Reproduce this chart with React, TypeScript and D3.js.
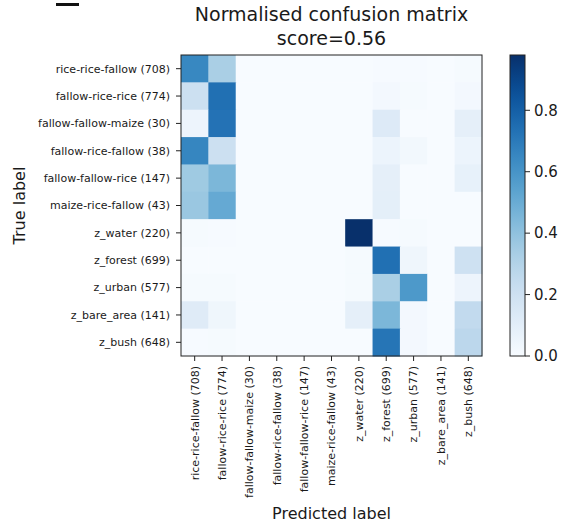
import React from 'react';
import * as d3 from 'd3';

const classNames = [
    'rice-rice-fallow (708)',
    'fallow-rice-rice (774)',
    'fallow-fallow-maize (30)',
    'fallow-rice-fallow (38)',
    'fallow-fallow-rice (147)',
    'maize-rice-fallow (43)',
    'z_water (220)',
    'z_forest (699)',
    'z_urban (577)',
    'z_bare_area (141)',
    'z_bush (648)',
];

// rows = true label, columns = predicted label (row-normalised)
const matrix = [
    [0.65, 0.33, 0, 0, 0, 0, 0, 0.005, 0.005, 0, 0.01],
    [0.21, 0.74, 0, 0, 0, 0, 0, 0.02, 0.01, 0, 0.02],
    [0.05, 0.73, 0, 0, 0, 0, 0, 0.13, 0, 0, 0.09],
    [0.658, 0.21, 0, 0, 0, 0, 0, 0.053, 0.026, 0, 0.053],
    [0.36, 0.45, 0, 0, 0, 0, 0, 0.09, 0, 0, 0.08],
    [0.372, 0.51, 0, 0, 0, 0, 0, 0.093, 0, 0, 0],
    [0.01, 0.005, 0, 0, 0, 0, 0.98, 0.005, 0.01, 0, 0],
    [0, 0, 0, 0, 0, 0, 0.01, 0.74, 0.04, 0, 0.2],
    [0.01, 0.01, 0, 0, 0, 0, 0.01, 0.33, 0.58, 0, 0.05],
    [0.12, 0.04, 0, 0, 0, 0, 0.09, 0.45, 0.02, 0, 0.25],
    [0.005, 0.01, 0, 0, 0, 0, 0, 0.72, 0.02, 0, 0.27],
];

const colorbarTicks = [0, 0.2, 0.4, 0.6, 0.8];
const title = ['Normalised confusion matrix', 'score=0.56'];

const font = '"DejaVu Sans", sans-serif';

export default function App() {
    const left = 181;
    const top = 55;
    const size = 301;
    const vmax = d3.max(matrix.flat());

    const x = d3.scaleBand().domain(d3.range(classNames.length)).range([left, left + size]);
    const y = d3.scaleBand().domain(d3.range(classNames.length)).range([top, top + size]);
    const color = d3.scaleSequential(d3.interpolateBlues).domain([0, vmax]);

    const cbX = 510;
    const cbW = 15;
    const cbY = d3.scaleLinear().domain([0, vmax]).range([top + size, top]);
    const stops = d3.range(0, 1.0001, 0.05);

    return (
        <svg width={567} height={526} style={{ position: 'absolute', left: 0, top: 0 }} fontFamily={font}>
            <rect x={0} y={0} width={567} height={526} fill="#fff" />
            <rect x={56} y={3} width={23} height={3} fill="#111" />

            <g textAnchor="middle" fontSize={19} fill="#1a1a1a">
                <text x={left + size / 2} y={21}>{title[0]}</text>
                <text x={left + size / 2} y={45}>{title[1]}</text>
            </g>

            <g>
                {matrix.map((row, i) =>
                    row.map((v, j) => (
                        <rect
                            key={`${i}-${j}`}
                            x={x(j)}
                            y={y(i)}
                            width={x.bandwidth() + 0.5}
                            height={y.bandwidth() + 0.5}
                            fill={color(v)}
                        />
                    ))
                )}
            </g>
            <rect x={left} y={top} width={size} height={size} fill="none" stroke="#222" strokeWidth={1} />

            <g fontSize={11} fill="#1a1a1a">
                {classNames.map((name, i) => (
                    <g key={name}>
                        <line x1={left - 5} x2={left} y1={y(i) + y.bandwidth() / 2} y2={y(i) + y.bandwidth() / 2} stroke="#222" />
                        <text x={left - 11} y={y(i) + y.bandwidth() / 2} dy="0.35em" textAnchor="end">{name}</text>
                    </g>
                ))}
                {classNames.map((name, j) => {
                    const cx = x(j) + x.bandwidth() / 2;
                    return (
                        <g key={name}>
                            <line x1={cx} x2={cx} y1={top + size} y2={top + size + 5} stroke="#222" />
                            <text transform={`translate(${cx},${top + size + 10}) rotate(-90)`} dy="0.35em" textAnchor="end">{name}</text>
                        </g>
                    );
                })}
            </g>

            <text x={left + size / 2} y={519} textAnchor="middle" fontSize={16} fill="#1a1a1a">Predicted label</text>
            <text transform={`translate(25,${top + size / 2}) rotate(-90)`} textAnchor="middle" fontSize={16} fill="#1a1a1a">True label</text>

            <defs>
                <linearGradient id="cb" x1="0" y1="1" x2="0" y2="0">
                    {stops.map(t => (
                        <stop key={t} offset={t} stopColor={d3.interpolateBlues(t)} />
                    ))}
                </linearGradient>
            </defs>
            <rect x={cbX} y={top} width={cbW} height={size} fill="url(#cb)" stroke="#222" strokeWidth={1} />
            <g fontSize={15} fill="#1a1a1a">
                {colorbarTicks.map(t => (
                    <g key={t}>
                        <line x1={cbX + cbW} x2={cbX + cbW + 5} y1={cbY(t)} y2={cbY(t)} stroke="#222" />
                        <text x={cbX + cbW + 9} y={cbY(t)} dy="0.35em">{t.toFixed(1)}</text>
                    </g>
                ))}
            </g>
        </svg>
    );
}
